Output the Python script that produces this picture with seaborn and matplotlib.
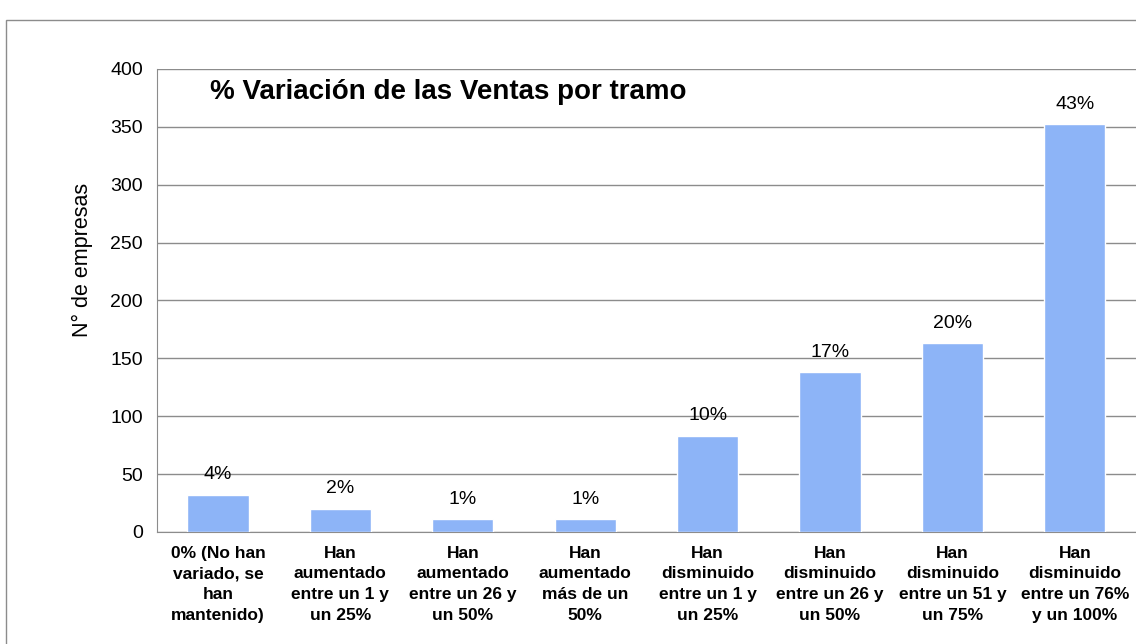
import matplotlib
matplotlib.use("Agg")
import matplotlib.pyplot as plt
import matplotlib.patches as mpatches
import seaborn as sns
import pandas as pd

categorias = [
    "0% (No han\nvariado, se\nhan\nmantenido)",
    "Han\naumentado\nentre un 1 y\nun 25%",
    "Han\naumentado\nentre un 26 y\nun 50%",
    "Han\naumentado\nmás de un\n50%",
    "Han\ndisminuido\nentre un 1 y\nun 25%",
    "Han\ndisminuido\nentre un 26 y\nun 50%",
    "Han\ndisminuido\nentre un 51 y\nun 75%",
    "Han\ndisminuido\nentre un 76%\ny un 100%",
]
empresas = [32, 20, 11, 11, 83, 138, 163, 352]
etiquetas = ["4%", "2%", "1%", "1%", "10%", "17%", "20%", "43%"]

df = pd.DataFrame({"tramo": categorias, "n": empresas})

sns.set_style("white")
plt.rcParams["font.family"] = ["Liberation Sans", "DejaVu Sans"]
plt.rcParams["text.color"] = "black"
plt.rcParams["axes.labelcolor"] = "black"
plt.rcParams["xtick.labelcolor"] = "black"
plt.rcParams["ytick.labelcolor"] = "black"

fig = plt.figure(figsize=(11.36, 6.44), dpi=100)
ax = fig.add_axes([0.138, 0.174, 0.862, 0.719])

sns.barplot(data=df, x="tramo", y="n", color="#8db4f7", width=0.5,
            saturation=1, ax=ax, zorder=3)

ax.set_ylim(0, 400)
ax.set_xlim(-0.5, len(categorias) - 0.5)
ax.set_yticks(range(0, 401, 50))
ax.yaxis.grid(True, color="#8c8c8c", lw=1, zorder=0)
ax.tick_params(axis="y", labelsize=14, length=5, color="#8c8c8c", pad=5)
ax.tick_params(axis="x", which="major", length=0, pad=10)
ax.set_xticks([i - 0.5 for i in range(len(categorias) + 1)], minor=True)
ax.tick_params(axis="x", which="minor", length=5, color="#8c8c8c")
for lab in ax.get_xticklabels():
    lab.set_fontweight("bold")
    lab.set_fontsize(12.5)
    lab.set_linespacing(1.47)

for s in ["top", "right"]:
    ax.spines[s].set_visible(False)
for s in ["left", "bottom"]:
    ax.spines[s].set_color("#8c8c8c")

ax.set_xlabel("")
ax.set_ylabel("N° de empresas", fontsize=15.5)
ax.yaxis.set_label_coords(-0.065, 0.587)

for i, (v, t) in enumerate(zip(empresas, etiquetas)):
    ax.text(i, v + 10, t, ha="center", va="bottom", fontsize=14)

ax.text(0.054, 0.979, "% Variación de las Ventas por tramo", transform=ax.transAxes,
        fontsize=20, fontweight="bold", va="top")

fig.patches.append(mpatches.Rectangle((0.005, -0.1), 1.2, 1.069, transform=fig.transFigure,
                                      fill=False, edgecolor="#8c8c8c", lw=1))

fig.savefig("out.png", dpi=100)
